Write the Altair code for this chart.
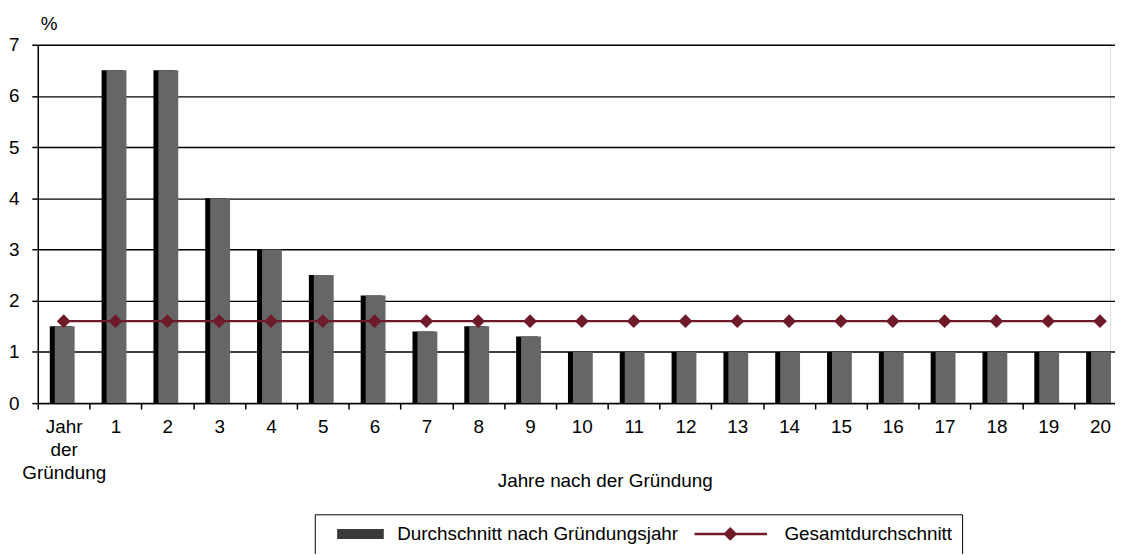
import altair as alt
import pandas as pd

categories = ["Jahr der Gründung", "1", "2", "3", "4", "5", "6", "7", "8", "9", "10",
              "11", "12", "13", "14", "15", "16", "17", "18", "19", "20"]
bar_values = [1.5, 6.5, 6.5, 4.0, 3.0, 2.5, 2.1, 1.4, 1.5, 1.3, 1.0,
              1.0, 1.0, 1.0, 1.0, 1.0, 1.0, 1.0, 1.0, 1.0, 1.0]
avg_values = [1.6, 1.6, 1.6, 1.6, 1.6, 1.6, 1.6, 1.6, 1.6, 1.6, 1.6,
              1.6, 1.6, 1.6, 1.6, 1.6, 1.6, 1.6, 1.6, 1.6, 1.6]
series = ["Durchschnitt nach Gründungsjahr", "Gesamtdurchschnitt"]
y_ticks = [0, 1, 2, 3, 4, 5, 6, 7]

df = pd.DataFrame({
    "cat": categories,
    "bar": bar_values,
    "avg": avg_values,
    "s1": series[0],
    "s2": series[1],
})

FONT = "Liberation Sans"
FS = 19
BAR_GRAY = "#666666"
RED = "#6e1a28"

x_enc = alt.X(
    "cat:N",
    sort=categories,
    scale=alt.Scale(domain=categories, paddingInner=0, paddingOuter=0, range=[0, 1096]),
    axis=alt.Axis(
        title="Jahre nach der Gründung",
        titleX=571, titleY=78, titleBaseline="middle", titleAlign="center",
        titleFont=FONT, titleFontSize=FS, titleFontWeight="normal", titleColor="black",
        labelAngle=0, labelFont=FONT, labelFontSize=FS, labelColor="black",
        labelPadding=9, labelLineHeight=23,
        labelExpr="datum.value == 'Jahr der Gründung' ? ['Jahr', 'der', 'Gründung'] : datum.label",
        tickBand="extent", tickColor="black", tickSize=6, tickWidth=1.5,
        domainColor="black", domainWidth=1.5, grid=False,
    ),
)

y_scale = alt.Scale(domain=[0, 7], nice=False)
y_axis = alt.Axis(
    title="%", titleAngle=0, titleX=11, titleY=-21, titleAlign="center",
    titleBaseline="middle", titleFont=FONT, titleFontSize=FS, titleFontWeight="normal",
    titleColor="black",
    values=y_ticks, format="d", labelFont=FONT, labelFontSize=FS, labelColor="black",
    labelPadding=13,
    tickColor="black", tickSize=6, tickWidth=1.5,
    domainColor="black", domainWidth=1.5,
    grid=True, gridColor="black", gridWidth=1.4,
)

color_scale = alt.Scale(domain=series, range=["#3a3a3a", RED])
shape_scale = alt.Scale(
    domain=series,
    range=["M-4.7,-1H4.7V1H-4.7Z",
           "M-10.7,-0.25H3.9V0.25H-10.7ZM-3.5,-1.4L-2.1,0L-3.5,1.4L-4.9,0Z"],
)
legend = alt.Legend(
    title=None, orient="none", legendX=279, legendY=473, direction="horizontal",
    strokeColor="black", padding=10, fillColor="white",
    labelFont=FONT, labelFontSize=FS, labelColor="black", labelLimit=600,
    symbolSize=100, symbolOffset=26.5, labelOffset=27.5, columnPadding=15,
    symbolStrokeWidth=0,
)

base = alt.Chart(df)

shadow = base.mark_bar(size=22, color="black", xOffset=-3).encode(
    x=x_enc,
    y=alt.Y("bar:Q", scale=y_scale, axis=y_axis),
)

bars = base.mark_bar(size=20, color=BAR_GRAY, xOffset=1).encode(
    x=x_enc,
    y=alt.Y("bar:Q", scale=y_scale, axis=y_axis),
)

line = base.mark_line(strokeWidth=2.2, color=RED).encode(
    x=x_enc,
    y=alt.Y("avg:Q", scale=y_scale),
)

points = base.mark_point(filled=True, size=190, opacity=1, shape="diamond", color=RED).encode(
    x=x_enc,
    y=alt.Y("avg:Q", scale=y_scale),
)

legend_layer = base.transform_filter("false").mark_point(filled=True, opacity=1).encode(
    x=x_enc,
    y=alt.Y("avg:Q", scale=y_scale),
    color=alt.Color("s2:N", scale=color_scale, legend=legend),
    shape=alt.Shape("s2:N", scale=shape_scale, legend=legend),
)

chart = alt.layer(shadow, bars, line, points, legend_layer).properties(
    width=1080, height=361,
    autosize=alt.AutoSizeParams(type="none"),
    padding={"left": 30, "top": 35, "right": 5, "bottom": 150},
).configure_view(stroke=None).configure(background="white")

chart.save("out.html", embed_options={"renderer": "svg", "actions": False})
